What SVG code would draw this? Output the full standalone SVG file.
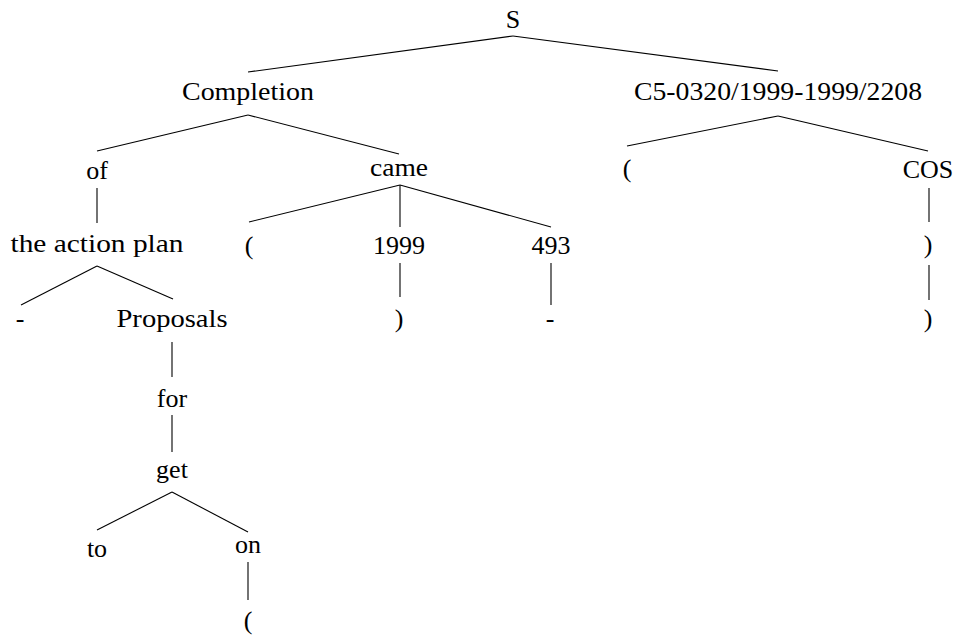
<svg xmlns="http://www.w3.org/2000/svg" width="958" height="637" viewBox="0 0 958 637">
<style>
  .e { stroke: #000; stroke-width: 1.1; fill: none; stroke-linecap: butt; }
  .t { font-family: "Liberation Serif", "Times New Roman", serif; font-size: 26px; fill: #000; text-anchor: middle; }
</style>
<rect width="958" height="637" fill="#fff"/>
<g id="connectors">
  <line class="e" x1="513" y1="36" x2="248" y2="72"/>
  <line class="e" x1="513" y1="36" x2="778" y2="71"/>
  <line class="e" x1="248" y1="115" x2="97" y2="151"/>
  <line class="e" x1="248" y1="115" x2="399" y2="154"/>
  <line class="e" x1="778" y1="116" x2="627" y2="146"/>
  <line class="e" x1="778" y1="116" x2="928" y2="151"/>
  <line class="e" x1="97" y1="188" x2="97" y2="223"/>
  <line class="e" x1="400" y1="185" x2="249" y2="222"/>
  <line class="e" x1="400" y1="185" x2="400" y2="227"/>
  <line class="e" x1="400" y1="185" x2="551" y2="227"/>
  <line class="e" x1="929" y1="188" x2="929" y2="222"/>
  <line class="e" x1="97" y1="266" x2="21" y2="305"/>
  <line class="e" x1="97" y1="266" x2="173" y2="299"/>
  <line class="e" x1="400" y1="263" x2="400" y2="297"/>
  <line class="e" x1="551" y1="263" x2="551" y2="305"/>
  <line class="e" x1="929" y1="265" x2="929" y2="300"/>
  <line class="e" x1="172" y1="342" x2="172" y2="377"/>
  <line class="e" x1="172" y1="415" x2="172" y2="452"/>
  <line class="e" x1="172" y1="492" x2="97" y2="530"/>
  <line class="e" x1="172" y1="492" x2="248" y2="532"/>
  <line class="e" x1="248" y1="562" x2="248" y2="600"/>
</g>
<g id="n-S"><text class="t" x="513" y="28">S</text></g>
<g id="n-completion"><text class="t" x="248" y="100" textLength="132" lengthAdjust="spacingAndGlyphs">Completion</text></g>
<g id="n-c5"><text class="t" x="778" y="100" textLength="288" lengthAdjust="spacingAndGlyphs">C5-0320/1999-1999/2208</text></g>
<g id="n-of"><text class="t" x="97" y="179">of</text></g>
<g id="n-came"><text class="t" x="399" y="176" textLength="58" lengthAdjust="spacingAndGlyphs">came</text></g>
<g id="n-lparen1"><text class="t" x="627" y="177">(</text></g>
<g id="n-cos"><text class="t" x="928" y="178">COS</text></g>
<g id="n-actionplan"><text class="t" x="97" y="252" textLength="173" lengthAdjust="spacingAndGlyphs">the action plan</text></g>
<g id="n-lparen2"><text class="t" x="249" y="253.5">(</text></g>
<g id="n-1999"><text class="t" x="399" y="254">1999</text></g>
<g id="n-493"><text class="t" x="551" y="254">493</text></g>
<g id="n-rparen1"><text class="t" x="928" y="253">)</text></g>
<g id="n-dash1"><text class="t" x="20" y="326.5">-</text></g>
<g id="n-proposals"><text class="t" x="172" y="327" textLength="111" lengthAdjust="spacingAndGlyphs">Proposals</text></g>
<g id="n-rparen2"><text class="t" x="399" y="327">)</text></g>
<g id="n-dash2"><text class="t" x="550" y="326.5">-</text></g>
<g id="n-rparen3"><text class="t" x="928" y="327">)</text></g>
<g id="n-for"><text class="t" x="172" y="407">for</text></g>
<g id="n-get"><text class="t" x="172" y="478">get</text></g>
<g id="n-to"><text class="t" x="97" y="556.5">to</text></g>
<g id="n-on"><text class="t" x="248" y="552.5">on</text></g>
<g id="n-lparen3"><text class="t" x="248" y="629">(</text></g>
</svg>
